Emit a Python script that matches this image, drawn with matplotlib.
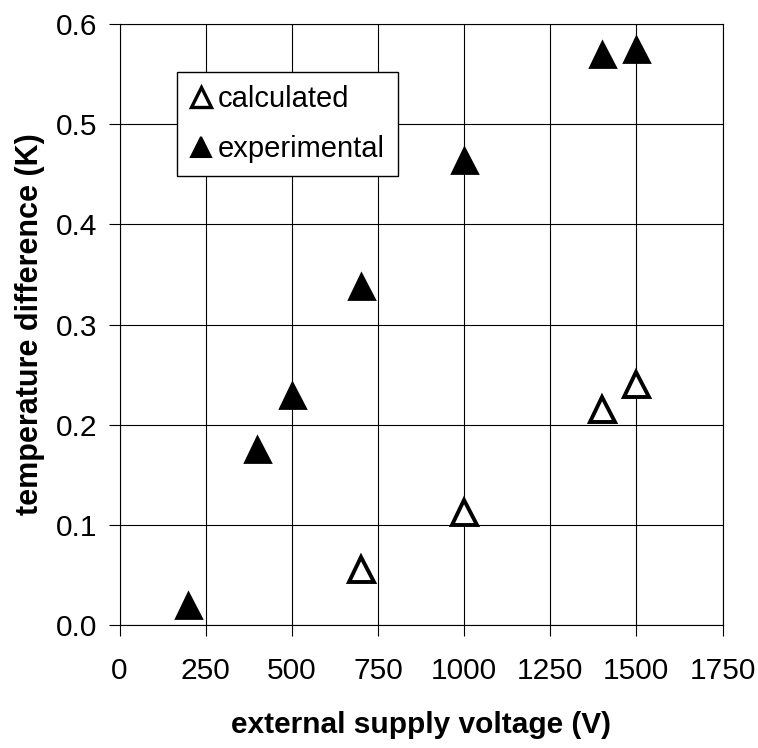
import matplotlib
matplotlib.use("Agg")
import matplotlib.pyplot as plt
from matplotlib.lines import Line2D
from matplotlib.ticker import FormatStrFormatter

plt.rcParams['font.family'] = ['Liberation Sans', 'DejaVu Sans']

# measured temperature differences
volt_exp = [200, 400, 500, 700, 1000, 1400, 1500]
dT_exp = [0.020, 0.176, 0.230, 0.338, 0.464, 0.570, 0.575]

# model predictions
volt_calc = [700, 1000, 1400, 1500]
dT_calc = [0.056, 0.113, 0.216, 0.241]

x_ticks = [0, 250, 500, 750, 1000, 1250, 1500, 1750]
y_ticks = [0.0, 0.1, 0.2, 0.3, 0.4, 0.5, 0.6]

fig = plt.figure(figsize=(7.58, 7.48), dpi=100)
ax = fig.add_axes([119.5 / 758, 1 - 625 / 748, 603 / 758, 601 / 748])

ax.plot(volt_calc, dT_calc, linestyle='none', marker='^', markersize=18,
        markerfacecolor='white', markeredgecolor='black', markeredgewidth=2.8,
        zorder=3)
ax.plot(volt_exp, dT_exp, linestyle='none', marker='^', markersize=18,
        markerfacecolor='black', markeredgecolor='black', markeredgewidth=2.0,
        zorder=3)

ax.set_xlim(0, 1750)
ax.set_ylim(0, 0.6)
ax.set_xticks(x_ticks)
ax.set_yticks(y_ticks)
ax.yaxis.set_major_formatter(FormatStrFormatter('%.1f'))
ax.grid(True, color='black', linewidth=0.8)
ax.set_axisbelow(True)
for s in ax.spines.values():
    s.set_linewidth(0.8)
    s.set_color('black')
ax.tick_params(direction='out', length=8, width=0.8, labelsize=21.5)
ax.tick_params(axis='x', pad=15)
ax.tick_params(axis='y', pad=8)

ax.set_xlabel('external supply voltage (V)', fontsize=21.5, fontweight='bold',
              labelpad=19)
ax.set_ylabel('temperature difference (K)', fontsize=22, fontweight='bold',
              labelpad=8)

handles = [
    Line2D([], [], linestyle='none', marker='^', markersize=15,
           markerfacecolor='white', markeredgecolor='black', markeredgewidth=2.4),
    Line2D([], [], linestyle='none', marker='^', markersize=15,
           markerfacecolor='black', markeredgecolor='black', markeredgewidth=1.5),
]
leg = ax.legend(handles, ['calculated', 'experimental'], loc='upper left',
                bbox_to_anchor=(0.095, 0.92), borderaxespad=0, fontsize=21,
                frameon=True, fancybox=False, handlelength=0.75,
                handletextpad=0.2, borderpad=0.45, labelspacing=0.75)
leg.get_frame().set_edgecolor('black')
leg.get_frame().set_linewidth(1.0)
leg.get_frame().set_alpha(1)

fig.savefig('out.png', dpi=100)
